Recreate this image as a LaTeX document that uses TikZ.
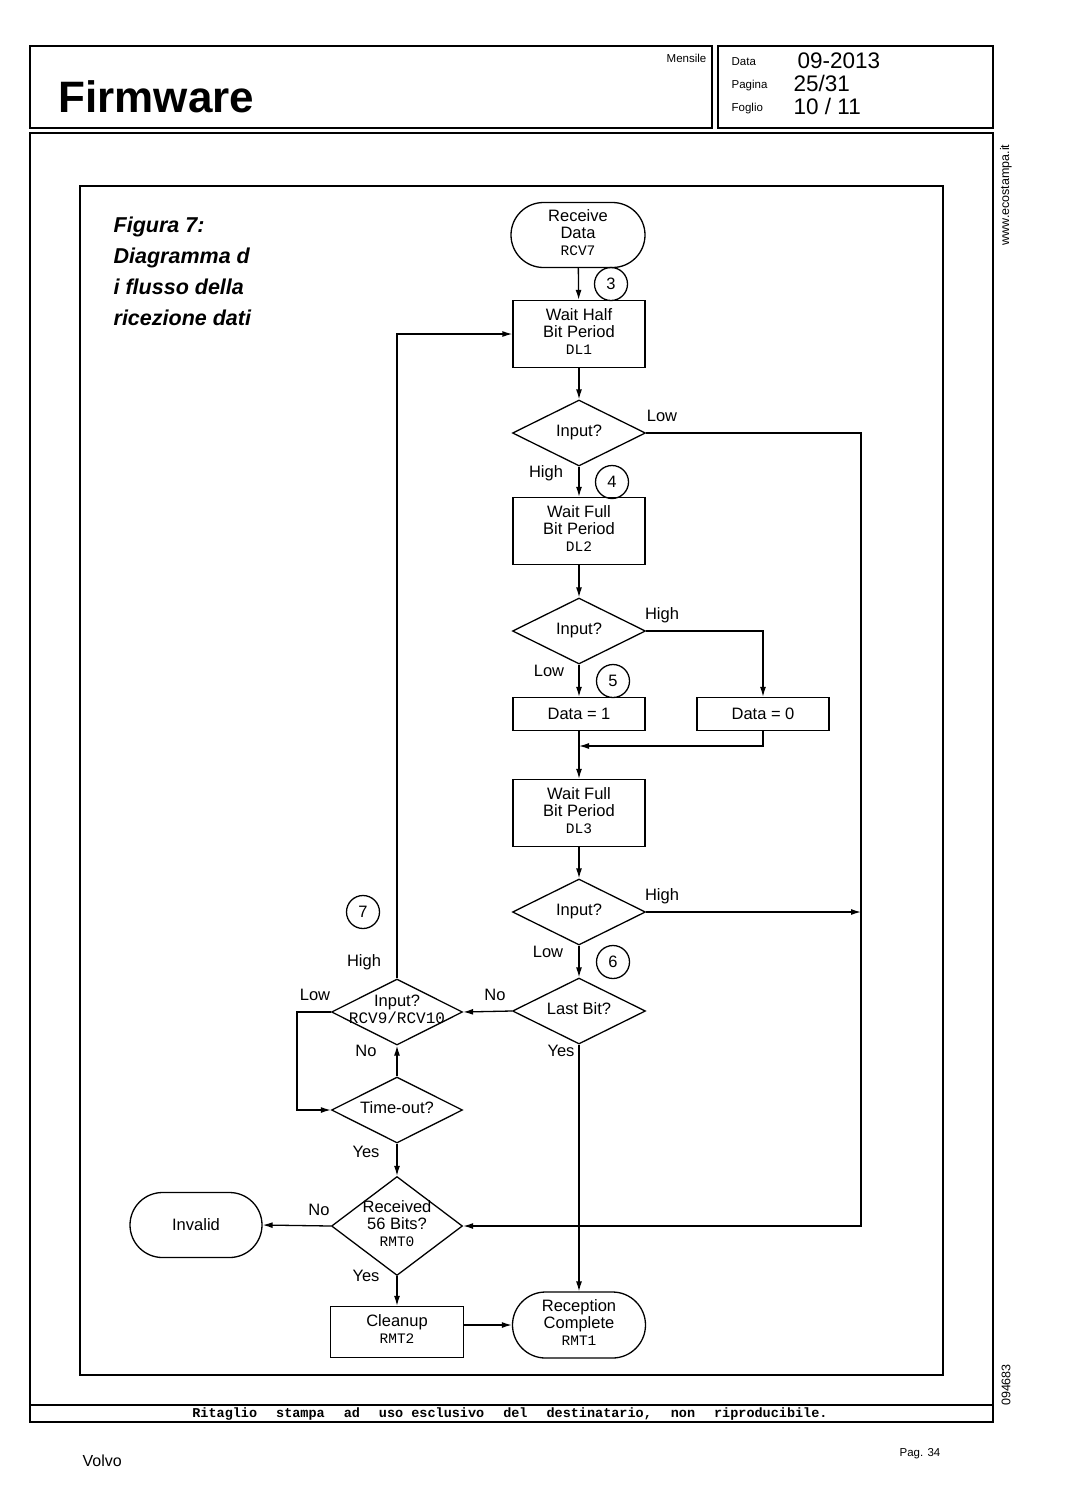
\documentclass[tikz,border=0pt]{standalone}
\usepackage{fontspec}
\setmainfont{Liberation Sans}
\setmonofont{Liberation Mono}
\usetikzlibrary{shapes.geometric,shapes.misc,arrows.meta}

\newcommand{\lbl}[1]{\begin{tabular}{@{}c@{}}#1\end{tabular}}
\newcommand{\dlbl}[1]{\makebox[0pt]{\lbl{#1}}}
\newcommand{\code}[1]{{\ttfamily\fontsize{14.5}{17}\selectfont #1}}
\newcommand{\gap}{\hspace{19pt}}

\begin{document}
\begin{tikzpicture}[x=1pt, y=-1pt, line width=1.3pt, >={Latex[length=10pt,width=6pt]},
	font=\fontsize{16.5}{17}\selectfont,
	proc/.style={draw, rectangle, minimum width=132pt, minimum height=67pt, inner sep=0pt},
	datbox/.style={draw, rectangle, minimum width=132pt, minimum height=33pt, inner sep=0pt},
	term/.style={draw, rounded rectangle, minimum width=134pt, minimum height=65pt, inner sep=0pt},
	decision/.style={draw, diamond, aspect=2, minimum width=133pt, minimum height=66pt, inner sep=0pt},
	tag/.style={draw, circle, minimum size=33pt, inner sep=0pt},
	ans/.style={inner sep=0pt},
	small/.style={inner sep=0pt, font=\fontsize{11.5}{12}\selectfont}]
	\useasboundingbox (0,0) rectangle (1069,1500);

	% page frame and header
	\draw[line width=1.6pt] (30,46) rectangle (712,128);
	\draw[line width=1.6pt] (718,46) rectangle (993,128);
	\draw[line width=1.6pt] (30,133) rectangle (993,1422);
	\draw[line width=1.6pt] (30,1405) -- (993,1405);
	\draw[line width=1.4pt] (80,186) rectangle (943,1375);
	\node[ans, anchor=base west, font=\bfseries\fontsize{44}{44}\selectfont] (title) at (58,112) {Firmware};
	\node[small, anchor=base east] (period) at (707,62) {Mensile};
	\node[small, anchor=base west] (kdata) at (731,65) {Data};
	\node[small, anchor=base west] (kpag) at (731,88) {Pagina};
	\node[small, anchor=base west] (kfog) at (731,111) {Foglio};
	\node[ans, anchor=base west, font=\fontsize{22.5}{23}\selectfont] (vdata) at (797,68) {09-2013};
	\node[ans, anchor=base west, font=\fontsize{22.5}{23}\selectfont] (vpag) at (793,91) {25/31};
	\node[ans, anchor=base west, font=\fontsize{22.5}{23}\selectfont] (vfog) at (793,114) {10 / 11};
	\node[small, rotate=90, font=\fontsize{12.5}{13}\selectfont] (site) at (1006,195) {www.ecostampa.it};
	\node[small, rotate=90, font=\fontsize{12.5}{13}\selectfont] (code) at (1006,1385) {094683};
	\node[ans, anchor=base, font=\ttfamily\bfseries\fontsize{13.5}{14}\selectfont] (note) at (510,1417)
		{Ritaglio\gap stampa\gap ad\gap uso esclusivo\gap del\gap destinatario,\gap non\gap riproducibile.};
	\node[ans, anchor=base west, font=\fontsize{16}{16}\selectfont] (brand) at (82,1466) {Volvo};
	\node[small, anchor=base west] (page) at (899,1456) {Pag. 34};

	% caption
	\node[ans, anchor=base west, font=\bfseries\itshape\fontsize{21.5}{31}\selectfont] (cap1) at (113,232) {Figura 7:};
	\node[ans, anchor=base west, font=\bfseries\itshape\fontsize{21.5}{31}\selectfont] (cap2) at (113,263) {Diagramma d};
	\node[ans, anchor=base west, font=\bfseries\itshape\fontsize{21.5}{31}\selectfont] (cap3) at (113,294) {i flusso della};
	\node[ans, anchor=base west, font=\bfseries\itshape\fontsize{21.5}{31}\selectfont] (cap4) at (113,325) {ricezione dati};

	% flowchart
	\node[term] (rcv) at (578,235) {\lbl{Receive\\Data\\\code{RCV7}}};
	\node[proc] (dl1) at (579,334) {\lbl{Wait Half\\Bit Period\\\code{DL1}}};
	\node[decision] (in1) at (579,433) {\dlbl{Input?}};
	\node[proc] (dl2) at (579,531) {\lbl{Wait Full\\Bit Period\\\code{DL2}}};
	\node[decision] (in2) at (579,631) {\dlbl{Input?}};
	\node[datbox] (d1) at (579,714) {Data = 1};
	\node[datbox] (d0) at (763,714) {Data = 0};
	\node[proc] (dl3) at (579,813) {\lbl{Wait Full\\Bit Period\\\code{DL3}}};
	\node[decision] (in3) at (579,912) {\dlbl{Input?}};
	\node[decision] (last) at (579,1011) {\dlbl{Last Bit?}};
	\node[decision, minimum width=131pt] (in4) at (397,1012)
		{\dlbl{Input?\\{\ttfamily\fontsize{16}{17}\selectfont RCV9/RCV10}}};
	\node[decision, minimum width=131pt] (tout) at (397,1110) {\dlbl{Time-out?}};
	\node[decision, minimum width=131pt, minimum height=99pt] (rcvd) at (397,1226) {\dlbl{Received\\56 Bits?\\\code{RMT0}}};
	\node[term, minimum width=132pt] (inv) at (196,1225) {Invalid};
	\node[proc, minimum width=133pt, minimum height=51pt] (clean) at (397,1332) {\lbl{Cleanup\\\code{RMT2}}};
	\node[term, minimum width=133pt, minimum height=66pt] (done) at (579,1325) {\lbl{Reception\\Complete\\\code{RMT1}}};

	\node[tag] (t3) at (611,284) {3};
	\node[tag] (t4) at (612,482) {4};
	\node[tag] (t5) at (613,681) {5};
	\node[tag] (t6) at (613,962) {6};
	\node[tag] (t7) at (363,912) {7};

	\node[ans] (lo1) at (662,416) {Low};
	\node[ans] (hi1) at (546,473) {High};
	\node[ans] (hi2) at (662,615) {High};
	\node[ans] (lo2) at (549,671) {Low};
	\node[ans] (hi3) at (662,896) {High};
	\node[ans] (lo3) at (548,952) {Low};
	\node[ans] (no1) at (495,995) {No};
	\node[ans] (yes1) at (561,1051) {Yes};
	\node[ans] (hi4) at (364,962) {High};
	\node[ans] (lo4) at (315,995) {Low};
	\node[ans] (no2) at (366,1051) {No};
	\node[ans] (yes2) at (366,1152) {Yes};
	\node[ans] (no3) at (319,1210) {No};
	\node[ans] (yes3) at (366,1276) {Yes};

	\coordinate (rline) at (861,912);
	\coordinate (merge) at (579,746);
	\coordinate (lline) at (297,1060);

	\draw[->] (rcv) -- (dl1);
	\draw[->] (dl1) -- (in1);
	\draw[->] (in1) -- (dl2);
	\draw[->] (in1.east) -| (rline) |- (rcvd.east);
	\draw[->] (dl2) -- (in2);
	\draw[->] (in2) -- (d1);
	\draw[->] (in2.east) -| (d0.north);
	\draw[->] (d1) -- (dl3);
	\draw[->] (d0.south) |- (merge);
	\draw[->] (dl3) -- (in3);
	\draw[->] (in3.east) -- (rline);
	\draw[->] (in3) -- (last);
	\draw[->] (last.west) -- (in4.east);
	\draw[->] (last.south) -- (done.north);
	\draw[->] (in4.north) |- (dl1.west);
	\draw[->] (in4.west) -| (lline) |- (tout.west);
	\draw[->] (tout) -- (in4);
	\draw[->] (tout) -- (rcvd);
	\draw[->] (rcvd.west) -- (inv.east);
	\draw[->] (rcvd) -- (clean);
	\draw[->] (clean.east |- done.west) -- (done.west);
\end{tikzpicture}
\end{document}
